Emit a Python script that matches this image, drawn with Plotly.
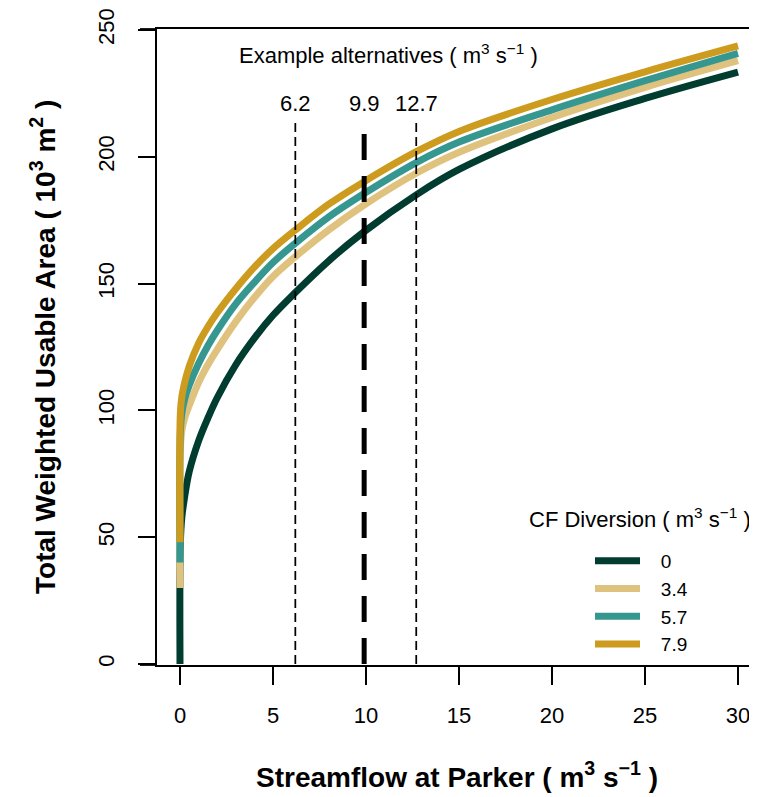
import plotly.graph_objects as go

# ---- data ----
streamflow = [0, 0.02, 0.1, 0.25, 0.5, 1, 1.5, 2, 3, 4, 5, 6.2, 8, 9.9, 12.7, 15, 20, 25, 30]
diversions = ["0", "3.4", "5.7", "7.9"]
twua_0 = [0, 48, 58, 66, 76, 88, 97, 105, 118, 128.5, 137.5, 146.5, 159, 170.5, 185, 195, 211, 223, 233.4]
twua_3_4 = [30, 85, 92, 97, 102, 111, 118, 124, 135, 144.5, 152.8, 160.6, 171.2, 181, 193.5, 201.8, 215.5, 227.4, 237.9]
twua_5_7 = [40, 92, 99, 104.5, 110, 118.5, 125.5, 131.5, 142, 150.5, 158.3, 165.9, 176.3, 185.5, 197.7, 205.8, 218.5, 230, 240.8]
twua_7_9 = [48, 99, 105.5, 111, 117.5, 126.5, 133, 138.5, 148, 156.5, 163.8, 171.1, 181.3, 190.2, 202, 210, 222.6, 233.5, 243.7]
alternatives = [6.2, 9.9, 12.7]
alt_labels = ["6.2", "9.9", "12.7"]
alt_top = [214, 210.5, 214]
x_ticks = [0, 5, 10, 15, 20, 25, 30]
y_ticks = [0, 50, 100, 150, 200, 250]

colors = ["#003C30", "#DFC27D", "#35978F", "#CD9B1D"]
series = [twua_0, twua_3_4, twua_5_7, twua_7_9]

FONT = "Liberation Sans, Arial, sans-serif"
UNIT = "( m<sup>3</sup> s<sup>\u22121</sup> )"
PAD = "\u00a0\u00a0\u00a0"

fig = go.Figure()
for name, ys, col in zip(diversions, series, colors):
    fig.add_trace(go.Scatter(x=streamflow, y=ys, mode="lines", name=PAD + name,
                             line=dict(color=col, width=7, shape="spline", smoothing=1.0)))

for xa, top, lab in zip(alternatives, alt_top, alt_labels):
    thick = lab == "9.9"
    fig.add_trace(go.Scatter(x=[xa, xa], y=[0, top], mode="lines", showlegend=False,
                             line=dict(color="black", width=5 if thick else 1.75,
                                       dash="26px,16px" if thick else "9px,5px")))
    fig.add_annotation(x=xa, y=221, text=lab, showarrow=False,
                       font=dict(size=22, color="black"), xanchor="center", yanchor="middle")

fig.add_annotation(x=11.21, y=240.5, text="Example alternatives " + UNIT, showarrow=False,
                   font=dict(size=22, color="black"), xanchor="center", yanchor="middle")

# axis titles
fig.add_annotation(xref="paper", yref="paper", x=0.5, y=-0.173, text="<b>Streamflow at Parker " + UNIT + "</b>",
                   showarrow=False, font=dict(size=28, color="black"), xanchor="center", yanchor="middle")
fig.add_annotation(xref="paper", yref="paper", x=-0.19, y=0.5,
                   text="<b>Total Weighted Usable Area ( 10<sup>3</sup> m<sup>2</sup> )</b>",
                   showarrow=False, textangle=-90, font=dict(size=28, color="black"),
                   xanchor="center", yanchor="middle")

# legend title
fig.add_annotation(xref="paper", yref="paper", x=(527 - 157) / 600, y=(665 - 518) / 636,
                   text="CF Diversion " + UNIT, showarrow=False, font=dict(size=22, color="black"),
                   xanchor="left", yanchor="middle")

# small extensions of the frame lines to the left
for yp in (0, 1):
    fig.add_shape(type="line", xref="paper", yref="paper", x0=-17 / 600, x1=0, y0=yp, y1=yp,
                  line=dict(color="black", width=1.75))

# the page body has an 8px margin: figure is 8px smaller and the plot area keeps its place
fig.update_layout(
    width=749, height=789,
    margin=dict(l=149, r=0, t=21, b=132, autoexpand=False),
    paper_bgcolor="white", plot_bgcolor="white",
    font=dict(family=FONT, size=22, color="black"),
    showlegend=True,
    legend=dict(x=(590 - 157) / 600, y=(665 - 542) / 636, xanchor="left", yanchor="top",
                bgcolor="rgba(0,0,0,0)", font=dict(size=19), itemwidth=45,
                tracegroupgap=0),
)
fig.update_xaxes(range=[-1.237, 31.02], tickvals=x_ticks, ticks="outside", ticklen=18, tickwidth=1.75,
                 tickcolor="black", showline=True, linewidth=1.75, linecolor="black", mirror=True,
                 showgrid=False, zeroline=False, ticklabelstandoff=12,
                 tickfont=dict(size=22, color="black"))
fig.update_yaxes(range=[-0.394, 250.39], tickvals=y_ticks, ticks="outside", ticklen=17, tickwidth=1.75,
                 tickcolor="black", showline=True, linewidth=1.75, linecolor="black", mirror=False,
                 showgrid=False, zeroline=False, tickangle=-90, ticklabelstandoff=15,
                 tickfont=dict(size=22, color="black"))

fig.write_html("out.html")
